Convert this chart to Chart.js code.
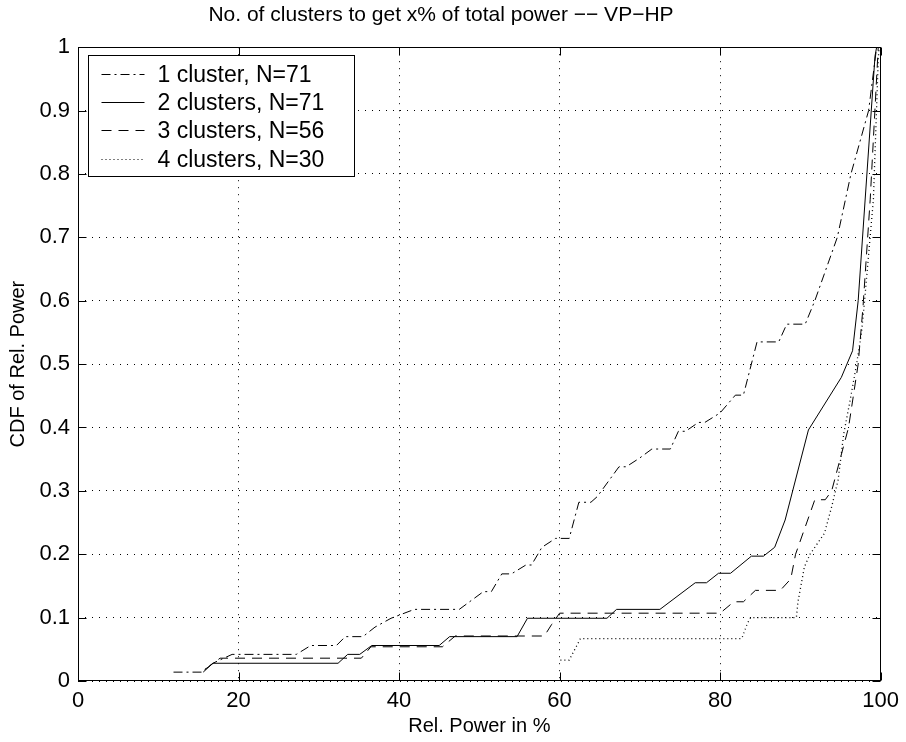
<!DOCTYPE html>
<html>
<head>
<meta charset="utf-8">
<script src="https://cdn.jsdelivr.net/npm/chart.js@4.4.0/dist/chart.umd.min.js"></script>
<style>
  html, body { margin: 0; padding: 0; background: #fff; }
  #wrap { width: 906px; height: 742px; }
</style>
</head>
<body>
<div id="wrap"><canvas id="chart" width="906" height="742"></canvas></div>
<script>
// tick positions
const xTicks = [0, 20, 40, 60, 80, 100];
const yTicks = [0, 0.1, 0.2, 0.3, 0.4, 0.5, 0.6, 0.7, 0.8, 0.9, 1];

// 1 cluster, N=71 (dash-dot)
const oneX = [11.9, 15.4, 16.8, 19.2, 27.2, 29.0, 32.2, 33.3, 35.5, 37.0, 39.0, 41.9, 47.5, 50.5, 51.5, 52.8, 54.0, 55.8, 56.5, 57.8, 59.5, 61.2, 62.4, 63.9, 64.7, 67.4, 68.3, 70.0, 71.5, 73.8, 74.8, 75.7, 77.3, 78.1, 80.0, 81.9, 82.9, 84.6, 87.3, 88.3, 90.6, 91.8, 94.6, 96.3, 98.5, 99.5];
const oneY = [0.014, 0.014, 0.028, 0.042, 0.042, 0.056, 0.056, 0.070, 0.070, 0.085, 0.099, 0.113, 0.113, 0.141, 0.141, 0.169, 0.169, 0.183, 0.183, 0.211, 0.225, 0.225, 0.282, 0.282, 0.291, 0.338, 0.338, 0.352, 0.366, 0.366, 0.394, 0.394, 0.408, 0.408, 0.423, 0.451, 0.451, 0.535, 0.535, 0.563, 0.563, 0.600, 0.700, 0.800, 0.900, 1.0];

// 2 clusters, N=71 (solid)
const twoX = [15.6, 16.8, 32.4, 33.6, 35.1, 36.6, 45.0, 46.3, 54.7, 56.0, 65.9, 67.1, 72.5, 76.9, 78.3, 79.8, 81.3, 83.9, 85.4, 86.8, 88.1, 91.0, 95.1, 96.5, 97.2, 99.3, 99.5];
const twoY = [0.014, 0.028, 0.028, 0.042, 0.042, 0.056, 0.056, 0.070, 0.070, 0.099, 0.099, 0.113, 0.113, 0.155, 0.155, 0.170, 0.170, 0.197, 0.197, 0.211, 0.254, 0.396, 0.479, 0.521, 0.600, 0.986, 1.0];

// 3 clusters, N=56 (dashed)
const threeX = [15.8, 17.7, 35.3, 36.5, 45.4, 47.0, 58.1, 59.0, 60.0, 80.0, 81.7, 82.9, 84.4, 87.5, 88.8, 89.4, 91.8, 93.1, 93.9, 96.0, 97.2, 97.8, 98.7, 99.7];
const threeY = [0.018, 0.036, 0.036, 0.054, 0.054, 0.071, 0.071, 0.089, 0.107, 0.107, 0.125, 0.125, 0.143, 0.143, 0.161, 0.200, 0.286, 0.286, 0.300, 0.400, 0.500, 0.590, 0.760, 1.0];

// 4 clusters, N=30 (dotted)
const fourX = [60.1, 61.2, 62.6, 82.7, 83.4, 83.8, 89.5, 89.7, 90.5, 91.2, 93.0, 93.9, 94.7, 95.4, 96.2, 97.0, 97.6, 98.0, 99.1, 99.7, 99.8];
const fourY = [0.033, 0.033, 0.067, 0.067, 0.091, 0.100, 0.100, 0.125, 0.180, 0.200, 0.233, 0.275, 0.317, 0.390, 0.443, 0.500, 0.548, 0.600, 0.760, 0.980, 1.0];

const labels = ['1 cluster, N=71', '2 clusters, N=71', '3 clusters, N=56', '4 clusters, N=30'];
const dashes = [[9, 4, 2, 4], [], [10, 7], [1, 3]];

const FONT = '"Liberation Sans", Arial, Helvetica, sans-serif';

function pts(xs, ys) {
  return xs.map((x, i) => ({ x: x, y: ys[i] }));
}

const series = [[oneX, oneY], [twoX, twoY], [threeX, threeY], [fourX, fourY]];
const datasets = series.map((s, i) => ({
  label: labels[i],
  data: pts(s[0], s[1]),
  borderColor: '#000',
  borderWidth: i === 3 ? 1.3 : 1,
  borderDash: dashes[i],
  pointRadius: 0,
  fill: false,
  tension: 0
}));

// frame, inward ticks and the legend box, matlab style
const framePlugin = {
  id: 'frame',
  afterDatasetsDraw(chart) {
    const { ctx, chartArea: a, scales } = chart;
    const x = scales.x, y = scales.y;
    ctx.save();
    ctx.strokeStyle = '#000';
    ctx.lineWidth = 1;
    ctx.setLineDash([]);
    const L = Math.round(a.left) + 0.5, R = Math.round(a.right) - 0.5;
    const T = Math.round(a.top) + 0.5, B = Math.round(a.bottom) - 0.5;
    ctx.strokeRect(L, T, R - L, B - T);
    const len = 8;
    ctx.beginPath();
    xTicks.forEach(v => {
      const px = Math.round(x.getPixelForValue(v)) + 0.5;
      ctx.moveTo(px, B); ctx.lineTo(px, B - len);
      ctx.moveTo(px, T); ctx.lineTo(px, T + len);
    });
    yTicks.forEach(v => {
      const py = Math.round(y.getPixelForValue(v)) + 0.5;
      ctx.moveTo(L, py); ctx.lineTo(L + len, py);
      ctx.moveTo(R, py); ctx.lineTo(R - len, py);
    });
    ctx.stroke();

    // legend
    const bx = L + 10, by = T + 8, bw = 266, bh = 121;
    ctx.fillStyle = '#fff';
    ctx.fillRect(bx, by, bw, bh);
    ctx.strokeRect(bx, by, bw, bh);
    ctx.font = '23px ' + FONT;
    ctx.textBaseline = 'middle';
    ctx.fillStyle = '#000';
    labels.forEach((t, i) => {
      const ry = Math.round(by + 18 + i * 28.4) + 0.5;
      ctx.setLineDash(dashes[i]);
      ctx.beginPath();
      ctx.moveTo(bx + 13, ry);
      ctx.lineTo(bx + 56, ry);
      ctx.stroke();
      ctx.setLineDash([]);
      ctx.fillText(t, bx + 69, ry + 1);
    });
    ctx.restore();
  }
};

new Chart(document.getElementById('chart'), {
  type: 'line',
  data: { datasets: datasets },
  plugins: [framePlugin],
  options: {
    responsive: false,
    animation: false,
    devicePixelRatio: 1,
    layout: { padding: { left: 0, right: 24, top: 0, bottom: 0 } },
    plugins: {
      legend: { display: false },
      tooltip: { enabled: false },
      title: {
        display: true,
        text: 'No. of clusters to get x% of total power \u2212\u2212 VP\u2212HP',
        color: '#000',
        font: { family: FONT, size: 21, weight: 'normal' },
        padding: { top: 3, bottom: 19 }
      }
    },
    scales: {
      x: {
        type: 'linear',
        min: 0,
        max: 100,
        afterBuildTicks: s => { s.ticks = xTicks.map(v => ({ value: v })); },
        afterFit: s => { s.height = 61; },
        ticks: { color: '#000', font: { family: FONT, size: 22 }, padding: 7, maxRotation: 0, callback: v => String(v) },
        grid: { color: '#000', drawTicks: false },
        border: { display: false, dash: [1, 6] },
        title: { display: true, text: 'Rel. Power in %', color: '#000', font: { family: FONT, size: 20 }, padding: { top: 0, bottom: 4 } }
      },
      y: {
        type: 'linear',
        min: 0,
        max: 1,
        afterBuildTicks: s => { s.ticks = yTicks.map(v => ({ value: v })); },
        afterFit: s => { s.width = 78; },
        ticks: { color: '#000', font: { family: FONT, size: 22 }, padding: 8, callback: v => String(v) },
        grid: { color: '#000', drawTicks: false },
        border: { display: false, dash: [1, 6] },
        title: { display: true, text: 'CDF of Rel. Power', color: '#000', font: { family: FONT, size: 20 }, padding: { top: 6, bottom: 0 } }
      }
    }
  }
});
</script>
</body>
</html>
